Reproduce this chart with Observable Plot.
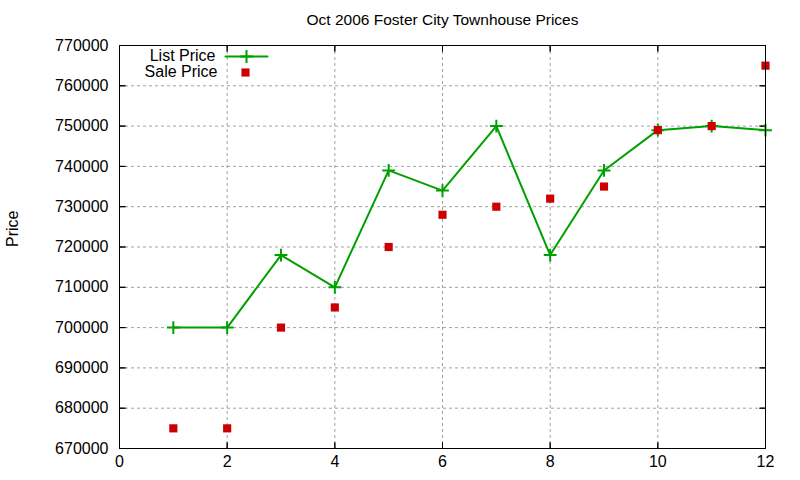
<!DOCTYPE html>
<html>
<head>
<meta charset="utf-8">
<script src="https://cdn.jsdelivr.net/npm/d3@7"></script>
<script src="https://cdn.jsdelivr.net/npm/@observablehq/plot@0.6"></script>
<style>
  html, body { margin: 0; padding: 0; background: #fff; }
  #chart svg { display: block; }
</style>
</head>
<body>
<div id="chart"></div>
<script>
const title = "Oct 2006 Foster City Townhouse Prices";
const yLabel = "Price";
const months = [1, 2, 3, 4, 5, 6, 7, 8, 9, 10, 11, 12];
const listPrice = [700000, 700000, 718000, 710000, 739000, 734000, 750000, 718000, 739000, 749000, 750000, 749000];
const salePrice = [675000, 675000, 700000, 705000, 720000, 728000, 730000, 732000, 735000, 749000, 750000, 765000];
const xTicks = [0, 2, 4, 6, 8, 10, 12];
const yTicks = [670000, 680000, 690000, 700000, 710000, 720000, 730000, 740000, 750000, 760000, 770000];
const legendLabels = ["List Price", "Sale Price"];

const listData = months.map((m, i) => ({x: m, y: listPrice[i]}));
const saleData = months.map((m, i) => ({x: m, y: salePrice[i]}));

const green = "#00a000";
const red = "#cc0000";
const font = "'Liberation Sans', Arial, sans-serif";
const seg = {shape: "spike", r: 0, anchor: "start"};

const chart = Plot.plot({
  width: 800,
  height: 480,
  marginLeft: 119,
  marginRight: 35,
  marginTop: 45,
  marginBottom: 32,
  style: {fontFamily: font, fontSize: "16px", color: "#000", background: "#fff"},
  x: {domain: [0, 12], ticks: xTicks},
  y: {domain: [670000, 770000], ticks: yTicks},
  marks: [
    // grid
    Plot.ruleX(xTicks.slice(1, -1), {stroke: "#a0a0a0", strokeDasharray: "3,3", strokeWidth: 1}),
    Plot.ruleY(yTicks.slice(1, -1), {stroke: "#a0a0a0", strokeDasharray: "3,3", strokeWidth: 1}),
    // inner ticks (mirrored)
    Plot.vector(yTicks, {...seg, y: d => d, frameAnchor: "left", rotate: 90, length: 6, stroke: "#000", strokeWidth: 1}),
    Plot.vector(yTicks, {...seg, y: d => d, frameAnchor: "right", rotate: -90, length: 6, stroke: "#000", strokeWidth: 1}),
    Plot.vector(xTicks, {...seg, x: d => d, frameAnchor: "bottom", rotate: 0, length: 6, stroke: "#000", strokeWidth: 1}),
    Plot.vector(xTicks, {...seg, x: d => d, frameAnchor: "top", rotate: 180, length: 6, stroke: "#000", strokeWidth: 1}),
    // axes labels
    Plot.axisY({ticks: yTicks, tickSize: 0, tickPadding: 11, tickFormat: d => String(d), label: null, fontSize: 16}),
    Plot.axisX({ticks: xTicks, tickSize: 0, tickPadding: 7, tickFormat: d => String(d), label: null, fontSize: 16}),
    // data
    Plot.line(listData, {x: "x", y: "y", stroke: green, strokeWidth: 2}),
    Plot.dot(listData, {x: "x", y: "y", symbol: "plus", r: 4.2, stroke: green, strokeWidth: 2}),
    Plot.dot(saleData, {x: "x", y: "y", symbol: "square", r: 4.6, fill: red, stroke: "none"}),
    // frame
    Plot.frame({stroke: "#000", strokeWidth: 1}),
    // legend
    Plot.text([legendLabels[0]], {frameAnchor: "top-left", lineAnchor: "middle", dx: 96, dy: 10, textAnchor: "end", fontSize: 16, fill: "#000"}),
    Plot.text([legendLabels[1]], {frameAnchor: "top-left", lineAnchor: "middle", dx: 98, dy: 26, textAnchor: "end", fontSize: 16, fill: "#000"}),
    Plot.vector([legendLabels[0]], {...seg, frameAnchor: "top-left", dx: 106, dy: 11, rotate: 90, length: 42, stroke: green, strokeWidth: 2}),
    Plot.dot([legendLabels[0]], {frameAnchor: "top-left", dx: 127, dy: 11, symbol: "plus", r: 4.2, stroke: green, strokeWidth: 2}),
    Plot.dot([legendLabels[1]], {frameAnchor: "top-left", dx: 126, dy: 27, symbol: "square", r: 4.6, fill: red, stroke: "none"}),
    // title and y label
    Plot.text([title], {frameAnchor: "top", lineAnchor: "middle", dy: -25, fontSize: 15.5, fill: "#000"}),
    Plot.text([yLabel], {frameAnchor: "left", dx: -107, rotate: -90, fontSize: 16, fill: "#000"})
  ]
});
document.getElementById("chart").appendChild(chart);
</script>
</body>
</html>
